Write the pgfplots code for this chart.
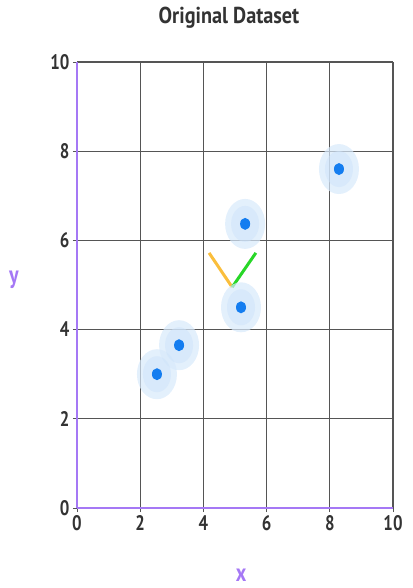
\documentclass[border=0pt]{standalone}
\usepackage{fontspec}
\setmainfont[FakeStretch=0.8]{PT Sans}
\newfontfamily\titlefont[FakeStretch=0.88]{PT Sans}
\usepackage{pgfplots}
\pgfplotsset{compat=1.18}

\definecolor{axpurple}{RGB}{165,120,245}
\definecolor{gridgray}{RGB}{85,85,85}
\definecolor{dotblue}{RGB}{20,125,240}
\definecolor{haloblue}{RGB}{215,233,251}
\definecolor{haloinner}{RGB}{205,227,250}
\definecolor{vorange}{RGB}{250,190,60}
\definecolor{vgreen}{RGB}{40,215,40}

\pgfdeclareplotmark{halo}{\pgfpathellipse{\pgfpointorigin}{\pgfpoint{20pt}{0pt}}{\pgfpoint{0pt}{25pt}}\pgfusepath{fill}}
\pgfdeclareplotmark{haloin}{\pgfpathellipse{\pgfpointorigin}{\pgfpoint{14pt}{0pt}}{\pgfpoint{0pt}{18pt}}\pgfusepath{fill}}
\pgfdeclareplotmark{dot}{\pgfpathellipse{\pgfpointorigin}{\pgfpoint{5pt}{0pt}}{\pgfpoint{0pt}{6pt}}\pgfusepath{fill}}

\begin{document}
\begin{tikzpicture}
\useasboundingbox (0,0) rectangle (412pt,588pt);
\begin{axis}[
  at={(77pt,80pt)}, anchor=south west,
  scale only axis, width=316pt, height=446pt,
  xmin=0, xmax=10, ymin=0, ymax=10,
  xtick={0,2,...,10}, ytick={0,2,...,10},
  axis x line=bottom, axis y line=left,
  axis line style={axpurple, line width=2pt, -},
  grid=major, major grid style={gridgray, line width=1.1pt},
  tick style={gridgray, line width=0.8pt},
  tick align=outside, major tick length=4pt,
  tick label style={font=\fontsize{21}{21}\selectfont\bfseries, text=black!80},
  /pgf/number format/assume math mode=true,
  clip=false,
]
  % halos
  \addplot[only marks, mark=halo, mark options={fill=haloblue, draw=none, opacity=0.7}]
    coordinates {(2.53,3.0) (3.23,3.65) (5.19,4.5) (5.32,6.37) (8.29,7.6)};
  \addplot[only marks, mark=haloin, mark options={fill=haloinner, draw=none, opacity=0.5}]
    coordinates {(2.53,3.0) (3.23,3.65) (5.19,4.5) (5.32,6.37) (8.29,7.6)};
  % eigen-vector like segments
  \addplot[vorange, line width=3pt] coordinates {(4.18,5.72) (4.91,4.95)};
  \addplot[vgreen, line width=3pt] coordinates {(4.91,4.95) (5.66,5.72)};
  % points
  \addplot[only marks, mark=dot, mark options={fill=dotblue, draw=none}]
    coordinates {(2.53,3.0) (3.23,3.65) (5.19,4.5) (5.32,6.37) (8.29,7.6)};
  \node[font=\titlefont\fontsize{23}{23}\selectfont\bfseries, text=black!80] at (axis description cs:0.481,1.099) {Original Dataset};
  \node[font=\fontsize{25}{25}\selectfont\bfseries, text=axpurple] at (axis description cs:-0.2,0.511) {y};
  \node[font=\fontsize{25}{25}\selectfont\bfseries, text=axpurple] at (axis description cs:0.519,-0.15) {x};
\end{axis}
\end{tikzpicture}
\end{document}
